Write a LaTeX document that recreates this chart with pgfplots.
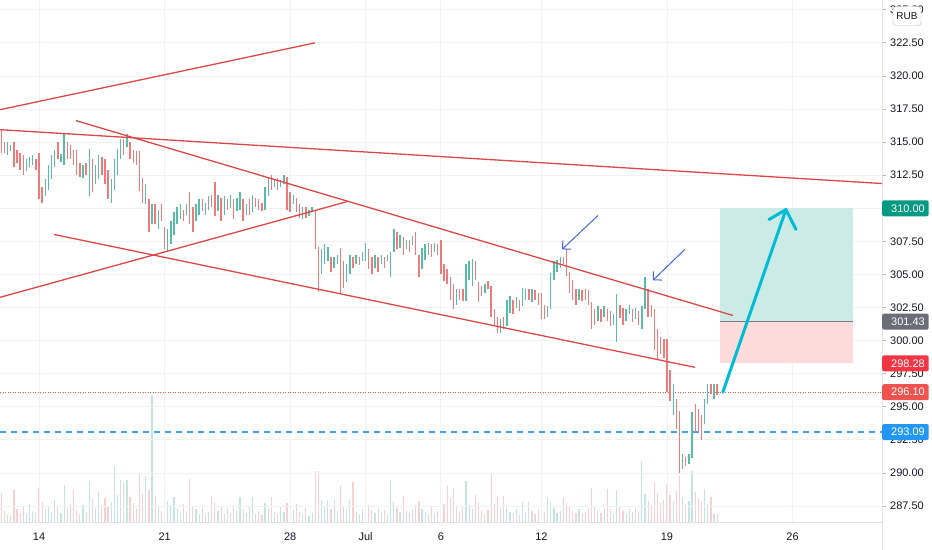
\documentclass[border=0pt]{standalone}
\usepackage{pgfplots}
\pgfplotsset{compat=1.18}
\usepackage{pgfplotstable}
\usepackage{fontspec}
\setmainfont{Liberation Sans}
\usetikzlibrary{arrows.meta}
\definecolor{upc}{RGB}{88,188,170}
\definecolor{dnc}{RGB}{240,122,122}
\definecolor{volup}{RGB}{196,230,224}
\definecolor{voldn}{RGB}{249,208,208}
\definecolor{trend}{RGB}{220,72,72}
\definecolor{barrow}{RGB}{70,100,230}
\definecolor{cyanarrow}{RGB}{0,188,212}
\definecolor{gridc}{RGB}{240,242,246}
\definecolor{axc}{RGB}{224,227,235}
\definecolor{labc}{RGB}{19,23,34}
\definecolor{tickc}{RGB}{178,181,190}
\definecolor{tealbox}{RGB}{8,153,129}
\definecolor{graybox}{RGB}{106,109,120}
\definecolor{redbox}{RGB}{242,54,69}
\definecolor{redbox2}{RGB}{239,83,80}
\definecolor{bluebox}{RGB}{33,150,243}
\definecolor{tpfill}{RGB}{204,235,230}
\definecolor{slfill}{RGB}{252,219,219}
\definecolor{midline}{RGB}{120,123,134}
\definecolor{dotred}{RGB}{239,83,80}
\definecolor{dashblue}{RGB}{66,160,240}

\pgfplotstableread{
i lo hi c v
0 314.2 315.9 0 5.6
1 314.2 315.0 0 2.1
2 314.0 315.0 1 1.4
3 314.3 314.8 1 1.2
4 313.1 315.0 0 6.1
5 313.4 314.4 0 2.5
6 312.9 314.2 0 1.8
7 312.5 314.0 0 2.9
8 312.8 313.7 1 1.6
9 313.1 313.9 1 3.4
10 313.3 314.0 1 2.2
11 312.9 313.7 0 1.9
12 310.7 314.2 0 6.5
13 310.4 311.6 0 3.8
14 310.9 312.2 1 2.4
15 311.4 313.3 1 3.1
16 312.2 314.0 1 2.0
17 313.1 314.4 1 4.2
18 313.7 315.0 0 3.0
19 313.5 314.1 1 1.7
20 313.3 315.6 1 7.1
21 313.7 315.0 0 2.6
22 313.7 314.8 0 3.5
23 313.3 314.4 0 6.1
24 312.5 314.4 0 2.3
25 312.4 313.4 0 1.5
26 312.3 313.3 1 3.2
27 312.5 313.4 0 2.0
28 310.9 314.5 1 7.9
29 311.2 313.7 0 4.4
30 311.8 313.3 1 2.7
31 312.2 314.0 1 5.7
32 312.5 313.9 0 3.3
33 311.8 313.7 0 4.6
34 310.7 312.9 0 2.9
35 310.4 312.2 1 3.9
36 311.4 313.7 1 10.7
37 312.5 314.5 1 5.1
38 313.7 315.2 1 8.0
39 314.0 315.2 0 7.6
40 314.6 315.6 1 8.0
41 313.7 315.0 0 4.8
42 313.4 314.4 0 3.6
43 313.3 314.3 0 2.4
44 311.3 314.3 0 9.4
45 310.4 312.3 0 5.3
46 310.3 311.8 1 8.8
47 308.2 310.7 0 6.1
48 308.8 310.3 1 24.3
49 308.8 310.3 0 5.0
50 308.4 309.9 1 3.1
51 309.0 310.3 0 2.2
52 306.9 308.6 0 14.6
53 306.7 308.4 1 4.0
54 307.3 309.0 1 3.2
55 308.0 309.7 1 4.8
56 308.8 310.1 1 2.6
57 309.2 310.3 1 1.9
58 309.0 309.9 0 3.4
59 309.5 310.3 1 2.1
60 308.8 311.2 0 8.2
61 308.2 310.1 0 3.0
62 309.0 310.3 1 2.4
63 309.5 310.7 1 1.6
64 309.8 310.7 0 2.8
65 309.5 310.4 1 1.3
66 309.9 310.9 1 2.0
67 310.1 311.0 0 5.0
68 309.4 312.0 0 3.6
69 309.8 311.0 1 2.2
70 309.0 310.8 0 3.0
71 309.5 310.9 1 1.5
72 309.9 310.7 0 2.7
73 310.0 311.0 1 1.8
74 309.2 310.7 0 3.3
75 309.8 310.8 1 2.1
76 309.9 311.2 1 4.8
77 309.0 310.7 0 2.4
78 309.5 310.3 1 1.7
79 309.5 310.7 0 2.9
80 309.7 311.0 1 4.8
81 310.1 310.8 0 1.6
82 309.9 310.7 0 2.2
83 309.8 310.4 0 1.4
84 309.9 311.6 1 3.6
85 310.9 312.4 1 2.6
86 311.4 312.5 0 4.8
87 311.6 312.2 1 2.0
88 311.4 312.3 0 1.6
89 311.6 312.1 1 2.8
90 311.8 312.5 1 1.9
91 309.9 312.4 0 3.7
92 309.7 311.2 0 5.9
93 310.3 311.0 1 2.3
94 309.7 310.8 0 3.4
95 309.3 310.3 0 2.0
96 309.2 310.1 1 1.5
97 309.3 310.1 0 2.6
98 309.4 309.9 1 1.2
99 309.7 310.1 1 1.8
100 306.9 309.8 0 9.8
101 303.7 307.1 0 9.8
102 305.0 306.9 1 4.2
103 305.8 307.3 1 3.0
104 306.0 307.1 1 4.2
105 305.2 306.3 0 2.4
106 305.5 306.3 1 4.2
107 305.8 306.5 1 2.1
108 303.5 307.0 0 6.9
109 304.0 306.0 0 3.1
110 304.4 305.8 1 2.5
111 305.0 306.5 1 4.2
112 305.5 306.3 0 7.7
113 305.8 306.5 1 2.0
114 305.7 306.3 0 1.6
115 306.0 306.7 1 2.4
116 306.0 307.4 1 5.0
117 305.4 306.9 0 3.2
118 305.0 306.3 0 2.1
119 305.5 306.5 1 1.7
120 305.2 306.3 0 2.6
121 305.8 306.5 1 1.9
122 305.5 306.3 0 2.3
123 306.0 306.5 1 1.4
124 304.8 306.7 1 8.0
125 306.7 308.4 1 3.9
126 306.9 308.2 0 2.7
127 307.0 308.0 1 2.0
128 306.5 307.8 0 5.0
129 306.9 307.6 1 2.2
130 306.7 307.6 0 1.8
131 307.2 307.9 1 2.5
132 306.5 308.2 0 3.3
133 304.8 306.5 0 4.1
134 305.4 307.0 1 2.4
135 306.1 307.3 1 1.9
136 306.5 307.4 1 1.5
137 306.3 307.3 0 2.8
138 306.7 307.4 1 1.7
139 306.5 307.3 0 2.2
140 305.0 307.6 0 6.1
141 304.5 305.8 0 3.4
142 304.3 305.4 0 6.9
143 303.1 304.8 0 4.6
144 302.4 304.3 0 6.5
145 302.7 303.9 1 2.9
146 303.1 303.9 0 2.0
147 303.0 303.9 0 3.1
148 303.0 305.8 1 7.9
149 304.6 306.0 1 3.3
150 304.1 306.2 1 2.5
151 304.6 306.0 0 5.2
152 302.9 304.4 0 3.6
153 303.4 304.1 0 2.1
154 303.6 304.3 1 1.6
155 303.9 304.5 0 2.3
156 301.8 304.1 0 9.4
157 301.2 302.4 0 3.5
158 300.6 301.8 0 4.8
159 300.6 301.6 1 2.7
160 300.9 301.8 0 5.0
161 301.1 303.1 1 3.1
162 302.1 303.4 1 2.0
163 302.0 303.1 0 1.7
164 302.5 303.3 1 2.4
165 302.2 303.1 0 1.4
166 302.6 304.0 1 3.8
167 303.1 303.9 1 1.9
168 303.1 303.9 0 3.8
169 302.9 303.9 1 2.2
170 303.1 303.8 0 1.6
171 302.7 303.6 0 2.5
172 301.6 303.6 0 3.4
173 301.6 302.7 0 2.0
174 301.8 302.6 1 4.8
175 302.4 305.1 1 3.9
176 304.6 306.0 1 2.6
177 305.2 306.1 1 1.8
178 305.5 306.3 1 2.2
179 305.8 306.3 0 4.6
180 304.9 306.9 0 3.7
181 303.6 305.2 0 2.8
182 303.1 304.6 0 2.1
183 302.7 303.9 0 1.7
184 303.1 303.9 1 2.4
185 303.0 303.8 0 1.5
186 303.1 303.9 0 2.0
187 302.7 303.8 0 2.6
188 300.9 302.9 0 6.5
189 301.2 302.4 0 3.0
190 301.5 302.6 1 2.2
191 301.4 302.4 0 1.8
192 301.8 302.6 1 2.7
193 301.5 302.4 0 6.3
194 301.1 302.2 0 2.4
195 301.2 302.0 1 1.6
196 299.9 303.5 1 6.1
197 301.7 302.7 0 2.9
198 301.2 302.5 0 2.2
199 301.5 302.4 1 1.5
200 302.0 302.7 1 2.4
201 301.4 302.4 0 1.9
202 301.6 302.5 1 2.7
203 301.2 302.2 0 2.0
204 300.9 302.6 1 11.7
205 302.4 304.8 1 5.3
206 301.8 303.9 0 4.1
207 301.8 302.7 0 3.2
208 299.3 302.4 0 7.7
209 298.6 300.9 0 5.5
210 299.0 300.3 0 3.6
211 298.7 300.1 0 4.3
212 296.1 300.1 0 7.3
213 295.4 297.8 0 5.2
214 294.4 296.7 1 4.1
215 293.3 295.6 0 6.0
216 290.0 294.7 0 8.8
217 290.3 291.4 1 4.7
218 290.5 291.2 0 3.5
219 290.7 291.4 1 4.0
220 291.1 294.6 1 9.8
221 293.1 295.2 0 5.7
222 293.1 294.8 0 4.4
223 292.5 294.4 0 3.9
224 293.7 295.6 1 6.3
225 295.2 296.7 1 3.4
226 296.0 296.7 0 4.8
227 295.6 296.7 1 1.6
228 295.9 296.7 0 1.5
}\bars

\begin{document}
\begin{tikzpicture}
\path[use as bounding box] (0bp,-28bp) rectangle (932bp,522bp);
% volume
\begin{axis}[at={(0bp,0bp)}, anchor=south west, width=882bp, height=522bp,
  scale only axis, hide axis, xmin=-0.43, xmax=280.5, ymin=0, ymax=100]
\addplot[ycomb, draw=volup, line width=1.2bp, mark=none,
  restrict expr to domain={\thisrow{c}}{0.5:1.5}] table[x=i,y=v]{\bars};
\addplot[ycomb, draw=voldn, line width=1.2bp, mark=none,
  restrict expr to domain={\thisrow{c}}{-0.5:0.5}] table[x=i,y=v]{\bars};
\end{axis}
% price
\begin{axis}[at={(0bp,0bp)}, anchor=south west, width=882bp, height=522bp,
  scale only axis, xmin=-0.43, xmax=280.5, ymin=286.29, ymax=325.74,
  axis line style={draw=none},
  xtick={12,52,92,116,140,172,212,252},
  xticklabels={14,21,28,Jul,6,12,19,26},
  xtick style={draw=none},
  xticklabel style={yshift=-3.5bp},
  ytick={287.5,290,292.5,295,297.5,300,302.5,305,307.5,310,312.5,315,317.5,320,322.5,325},
  ytick pos=right, yticklabel pos=right,
  ytick style={draw=tickc, line width=0.8bp},
  major tick length=4bp, tick align=outside,
  yticklabel={\pgfmathprintnumber[fixed,fixed zerofill,precision=2,assume math mode=true]{\tick}},
  yticklabel style={anchor=west, inner xsep=0pt, xshift=4bp},
  tick label style={font=\fontsize{11}{13}\selectfont, text=labc},
  grid=major, major grid style={draw=gridc, line width=0.8bp},
]
% position tool
\fill[tpfill] (axis cs:228.9,301.43) rectangle (axis cs:271.2,310);
\fill[slfill] (axis cs:228.9,298.28) rectangle (axis cs:271.2,301.43);
\draw[midline, line width=0.8bp] (axis cs:228.9,301.43) -- (axis cs:271.2,301.43);
% horizontal price lines
\draw[dotred, line width=0.8bp, dash pattern=on 1bp off 1.5bp] (axis cs:-0.43,296.1) -- (axis cs:280.5,296.1);
\draw[dashblue, line width=1.2bp, dash pattern=on 6bp off 5bp] (axis cs:-0.43,293.09) -- (axis cs:280.5,293.09);
% bars
\addplot[draw=none, mark=none, restrict expr to domain={\thisrow{c}}{0.5:1.5},
  error bars/.cd, y dir=plus, y explicit, error mark=none,
  error bar style={draw=upc, line width=1.4bp, solid}]
  table[x=i, y=lo, y error expr=\thisrow{hi}-\thisrow{lo}]{\bars};
\addplot[draw=none, mark=none, restrict expr to domain={\thisrow{c}}{-0.5:0.5},
  error bars/.cd, y dir=plus, y explicit, error mark=none,
  error bar style={draw=dnc, line width=1.4bp, solid}]
  table[x=i, y=lo, y error expr=\thisrow{hi}-\thisrow{lo}]{\bars};
% trend lines
\draw[trend, line width=1.3bp] (axis cs:-0.43,317.45) -- (axis cs:99.9,322.5);
\draw[trend, line width=1.3bp] (axis cs:-0.43,315.94) -- (axis cs:280.5,311.87);
\draw[trend, line width=1.3bp] (axis cs:23.8,316.62) -- (axis cs:233.0,301.9);
\draw[trend, line width=1.3bp] (axis cs:16.8,308.02) -- (axis cs:220.9,297.98);
\draw[trend, line width=1.3bp] (axis cs:-0.43,303.27) -- (axis cs:110.1,310.5);
% blue arrows
\draw[barrow, line width=1bp, -{Straight Barb[length=6bp,width=12bp]}] (axis cs:190.0,309.45) -- (axis cs:178.6,306.89);
\draw[barrow, line width=1bp, -{Straight Barb[length=6bp,width=12bp]}] (axis cs:217.7,306.89) -- (axis cs:207.5,304.55);
% cyan arrow
\draw[cyanarrow, line width=3bp, line cap=round, line join=round] (axis cs:229.8,296.1) -- (axis cs:249.9,309.9);
\draw[cyanarrow, line width=3bp, line cap=round, line join=round] (axis cs:244.5,309.15) -- (axis cs:249.9,309.9) -- (axis cs:253.1,308.4);
\coordinate (L310) at (axis cs:280.5,310);
\coordinate (L301) at (axis cs:280.5,301.43);
\coordinate (L298) at (axis cs:280.5,298.28);
\coordinate (L296) at (axis cs:280.5,296.1);
\coordinate (L293) at (axis cs:280.5,293.09);
\end{axis}
\draw[axc, line width=0.8bp] (0bp,0bp) -- (882bp,0bp);
\draw[axc, line width=0.8bp] (882bp,-28bp) -- (882bp,522bp);
\tikzset{lab/.style={anchor=west, inner xsep=0pt, inner ysep=0pt, minimum height=16bp,
  rounded corners=2bp, text=white, font=\fontsize{11}{13}\selectfont}}
\node[lab, fill=tealbox] at (L310) {\hspace*{9bp}310.00\hspace*{4bp}};
\node[lab, fill=graybox] at (L301) {\hspace*{9bp}301.43\hspace*{4bp}};
\node[lab, fill=redbox] at (L298) {\hspace*{9bp}298.28\hspace*{4bp}};
\node[lab, fill=redbox2] at (L296) {\hspace*{9bp}296.10\hspace*{4bp}};
\node[lab, fill=bluebox] at (L293) {\hspace*{9bp}293.09\hspace*{4bp}};
\node[draw=tickc, fill=white, rounded corners=3bp, inner sep=0pt, minimum width=28bp,
  minimum height=19bp, text=labc, font=\fontsize{10}{12}\selectfont] at (907bp,506bp) {RUB};
\end{tikzpicture}
\end{document}
